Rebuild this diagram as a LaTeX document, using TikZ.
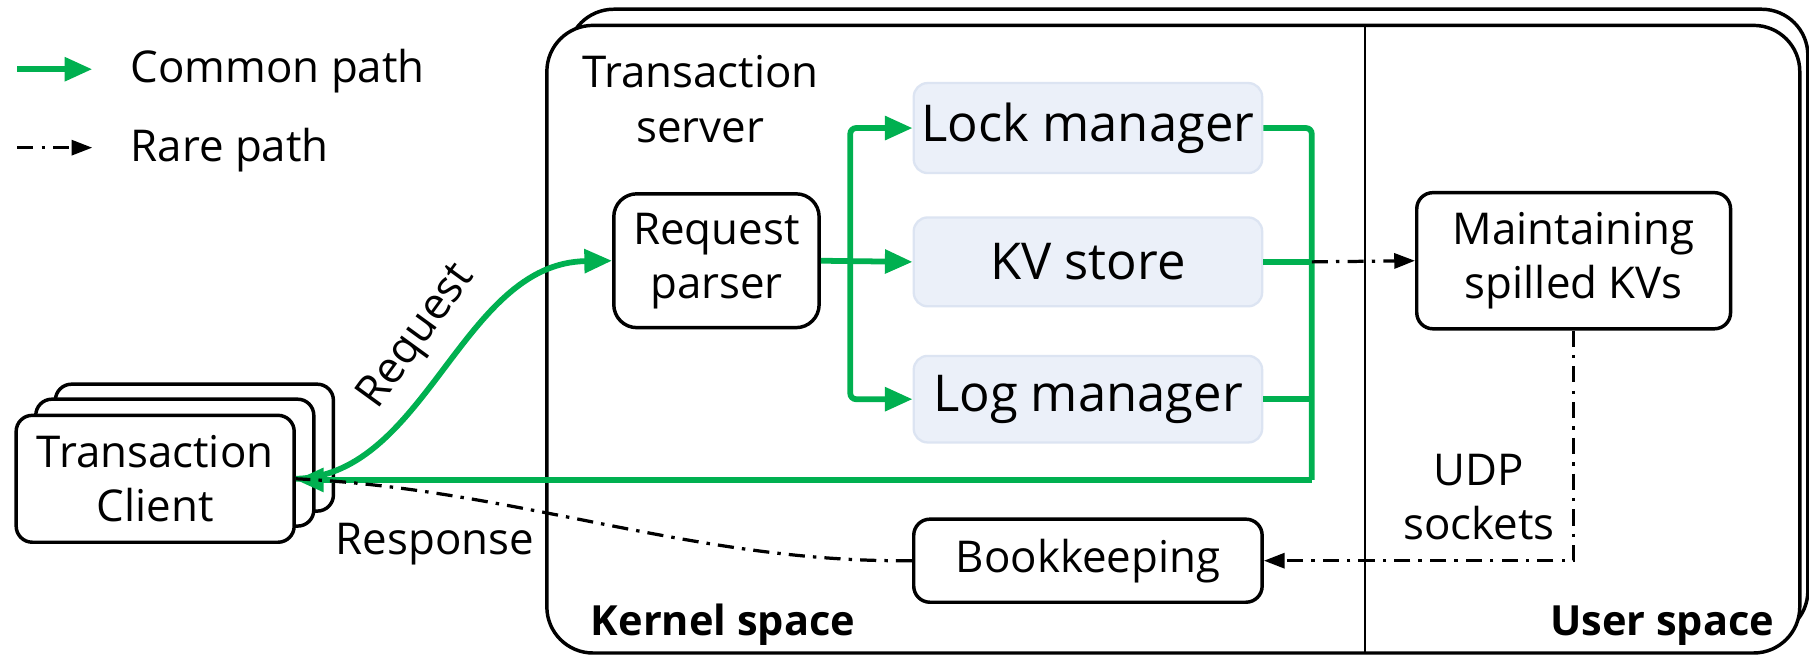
\documentclass[tikz,border=0pt]{standalone}
\usepackage{fontspec}
\setmainfont{Open Sans}
\usetikzlibrary{arrows.meta}
\definecolor{grn}{HTML}{00B050}
\definecolor{compfill}{HTML}{EBF0F9}
\definecolor{compborder}{HTML}{DCE4F2}
\tikzset{
  gline/.style={draw=grn, line width=5pt},
  garrow/.style={-{Triangle[length=24pt,width=20pt]}},
  rare/.style={draw=black, line width=2.8pt, dash pattern=on 14pt off 7pt on 3pt off 7pt},
  rarrow/.style={-{Triangle[length=18pt,width=13pt]}},
  blackbox/.style={draw=black, line width=3pt, rounded corners=14pt, fill=white, align=center, inner sep=0pt},
  compbox/.style={draw=compborder, fill=compfill, line width=2pt, rounded corners=12pt, align=center, inner sep=0pt, font=\fontsize{44}{50}\selectfont},
  frame/.style={draw=black, line width=3pt, rounded corners=40pt, fill=white},
  lbl/.style={align=center, inner sep=0pt},
}
\begin{document}
\begin{tikzpicture}[x=1pt,y=-1pt, font=\fontsize{38}{47}\selectfont]
\useasboundingbox (0,0) rectangle (1568,569);
% legend
\coordinate (lg1) at (15,60);
\coordinate (lg1e) at (80,60);
\coordinate (lg2) at (15,128);
\coordinate (lg2e) at (80,128);
\draw[gline, garrow] (lg1) -- (lg1e);
\draw[rare, rarrow] (lg2) -- (lg2e);
\node[lbl, anchor=west] (lgt1) at (113,62) {Common path};
\node[lbl, anchor=west] (lgt2) at (113,130) {Rare path};
% server frames
\draw[frame] (492,8) rectangle (1567,552);
\draw[frame] (474,22) rectangle (1560,566);
\coordinate (divtop) at (1183,22);
\coordinate (divbot) at (1183,566);
\draw[line width=2.2pt] (divtop) -- (divbot);
\node[lbl] (srv) at (607,86) {Transaction\\server};
\node[lbl, anchor=south west, font=\fontsize{36}{44}\selectfont\bfseries] (ks) at (512,560) {Kernel space};
\node[lbl, anchor=south east, font=\fontsize{36}{44}\selectfont\bfseries] (us) at (1538,560) {User space};
% client stack
\node[blackbox, minimum width=241pt, minimum height=110pt] (c3) at (168.5,388) {};
\node[blackbox, minimum width=241pt, minimum height=110pt] (c2) at (151.5,401) {};
\node[blackbox, minimum width=241pt, minimum height=110pt] (client) at (134.5,415) {Transaction\\Client};
% components
\node[blackbox, minimum width=178pt, minimum height=116pt, rounded corners=20pt] (parser) at (621,226) {Request\\parser};
\node[compbox, minimum width=302pt, minimum height=78pt] (lock) at (943,111) {Lock manager};
\node[compbox, minimum width=302pt, minimum height=77pt] (kv) at (943,227) {KV store};
\node[compbox, minimum width=302pt, minimum height=75pt] (log) at (943,346) {Log manager};
\node[blackbox, minimum width=302pt, minimum height=72pt] (book) at (943,486) {Bookkeeping};
\node[blackbox, minimum width=272pt, minimum height=118pt] (maint) at (1364,226) {Maintaining\\spilled KVs};
% bus coordinates
\coordinate (bl) at (737,227);
\coordinate (br) at (1137,416);
% green paths
\draw[gline, garrow] (parser.east) -- (kv.west);
\draw[gline, garrow, rounded corners=5pt] (bl) |- (lock.west);
\draw[gline, garrow, rounded corners=5pt] (bl) |- (log.west);
\draw[gline, rounded corners=5pt] (lock.east) -| (br);
\draw[gline] (kv.east) -- (kv.east -| br);
\draw[gline] (log.east) -- (log.east -| br);
\draw[gline, garrow] (br) -- (client.east |- br);
\draw[gline, garrow] (client.east) .. controls (370,412) and (400,228) .. (parser.west);
\node[lbl, rotate=54] (reqlbl) at (362,292) {Request};
% rare paths
\draw[rare, rarrow] (kv.east -| br) -- (maint.west);
\draw[rare, rarrow] (maint.south) |- (book.east);
\draw[rare] (book.west) .. controls (600,488) and (450,424) .. (client.east);
\node[lbl] (resp) at (377,472) {Response};
\node[lbl] (udp) at (1282,431) {UDP\\sockets};
\end{tikzpicture}
\end{document}
